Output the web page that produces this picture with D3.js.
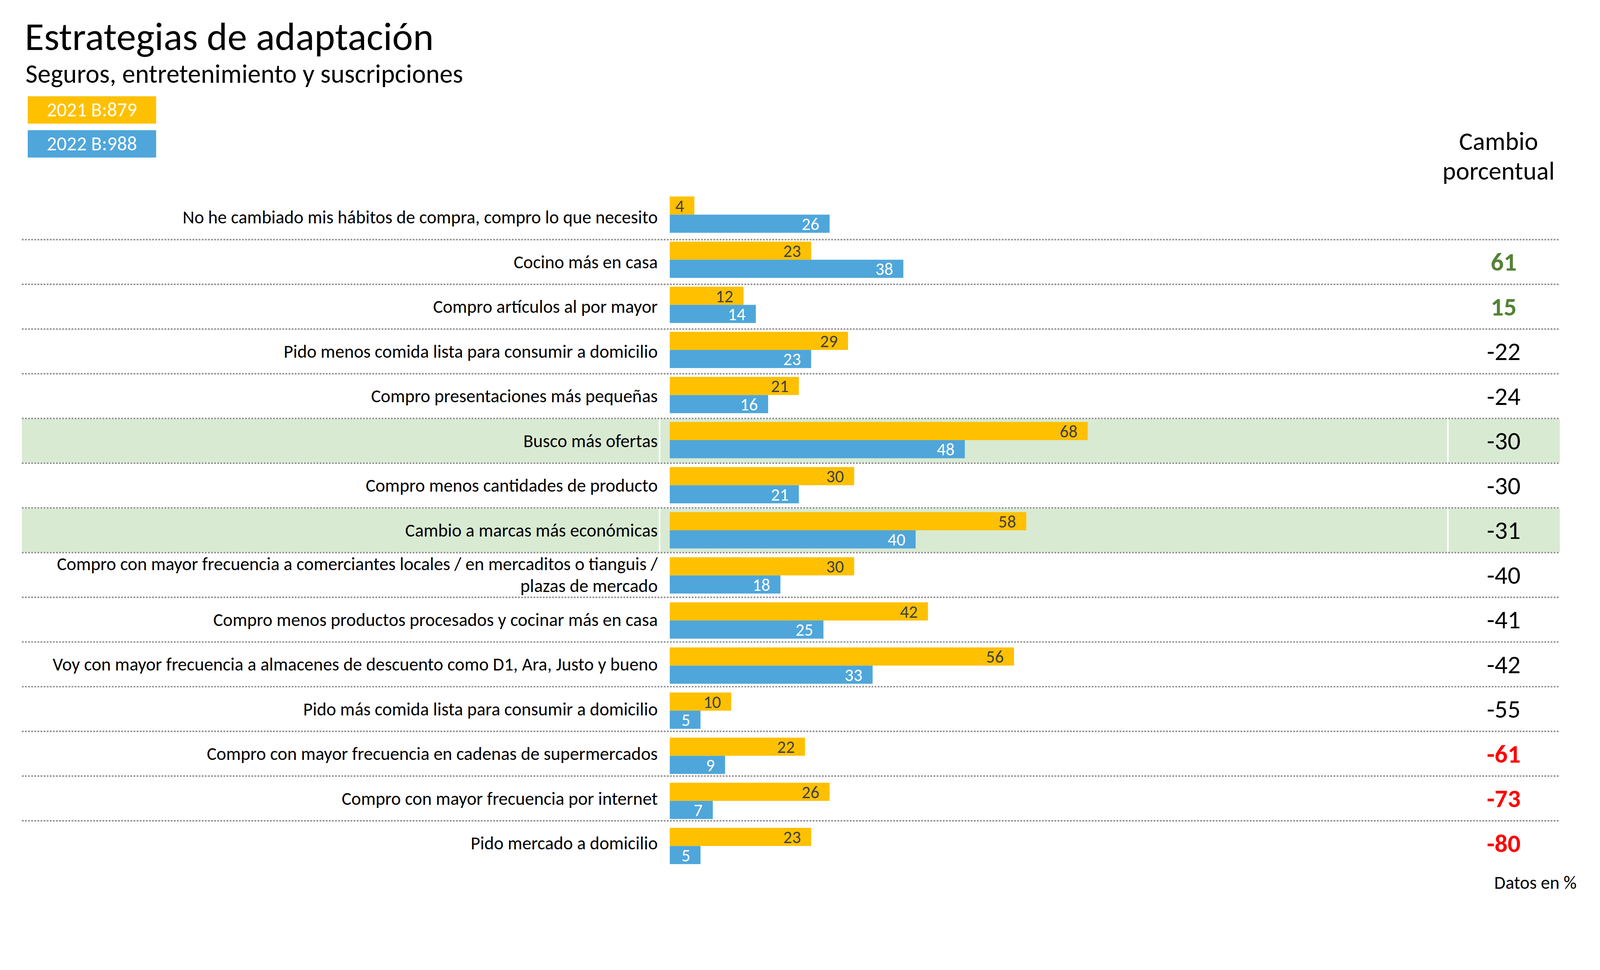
<!DOCTYPE html>
<html>
<head>
<meta charset="utf-8">
<script src="https://cdn.jsdelivr.net/npm/d3@7"></script>
<style>
  html, body { margin: 0; padding: 0; background: #fff; overflow: hidden; }
  svg { display: block; }
  text { font-family: Carlito, Calibri, Lato, sans-serif; }
</style>
</head>
<body>
<div id="chart"></div>
<script>
var categories = [
  "No he cambiado mis hábitos de compra, compro lo que necesito",
  "Cocino más en casa",
  "Compro artículos al por mayor",
  "Pido menos comida lista para consumir a domicilio",
  "Compro presentaciones más pequeñas",
  "Busco más ofertas",
  "Compro menos cantidades de producto",
  "Cambio a marcas más económicas",
  "Compro con mayor frecuencia a comerciantes locales / en mercaditos o tianguis / plazas de mercado",
  "Compro menos productos procesados y cocinar más en casa",
  "Voy con mayor frecuencia a almacenes de descuento como D1, Ara, Justo y bueno",
  "Pido más comida lista para consumir a domicilio",
  "Compro con mayor frecuencia en cadenas de supermercados",
  "Compro con mayor frecuencia por internet",
  "Pido mercado a domicilio"
];
var values2021 = [4, 23, 12, 29, 21, 68, 30, 58, 30, 42, 56, 10, 22, 26, 23];
var values2022 = [26, 38, 14, 23, 16, 48, 21, 40, 18, 25, 33, 5, 9, 7, 5];
var cambio = [null, 61, 15, -22, -24, -30, -30, -31, -40, -41, -42, -55, -61, -73, -80];
var highlighted = ["Busco más ofertas", "Cambio a marcas más económicas"];
var seriesNames = ["2021", "2022"];
var legendLabels = ["2021 B:879", "2022 B:988"];

var W = 4386, H = 2484;
var colors = {"2021": "#FFC000", "2022": "#4FA6DA"};
var labelColor = {"2021": "#404040", "2022": "#ffffff"};

var svg = d3.select("#chart").append("svg")
    .attr("viewBox", "0 0 " + W + " " + H)
    .attr("preserveAspectRatio", "xMinYMin meet")
    .style("width", "100vw")
    .style("height", "100vh");

svg.append("rect").attr("width", W).attr("height", H).attr("fill", "#fff");

// table columns (label / bars / change)
var colLabel = [60, 1806], colBars = [1810, 3967], colChange = [3971, 4276];

var yRow = d3.scaleBand().domain(categories).range([534.4, 534.4 + 15 * 122.6]);
var yBar = d3.scaleBand().domain(categories).range([538.8, 2369.5]).paddingInner(0.195).paddingOuter(0);
var ySeries = d3.scaleBand().domain(seriesNames).range([0, yBar.bandwidth()]);
var x = d3.scaleLinear().domain([0, 100]).range([1836, 1836 + 1685]);

// title
svg.append("text").attr("x", 68).attr("y", 137)
    .style("font-size", "108px").attr("fill", "#000")
    .text("Estrategias de adaptación");
svg.append("text").attr("x", 70).attr("y", 227)
    .style("font-size", "72px").attr("fill", "#000")
    .text("Seguros, entretenimiento y suscripciones");

// legend boxes
var legend = svg.append("g").selectAll("g").data(seriesNames).enter().append("g")
    .attr("transform", function(d, i){ return "translate(76," + (264 + i * 93) + ")"; });
legend.append("rect").attr("width", 352).attr("height", 75)
    .attr("fill", function(d){ return colors[d]; });
legend.append("text").attr("x", 176).attr("y", 55)
    .attr("text-anchor", "middle").attr("fill", "#fff")
    .style("font-size", "54px")
    .text(function(d, i){ return legendLabels[i]; });

// highlighted rows
var hl = svg.append("g");
highlighted.forEach(function(c){
    [colLabel, colBars, colChange].forEach(function(col){
        hl.append("rect")
            .attr("x", col[0]).attr("width", col[1] - col[0])
            .attr("y", yRow(c) + 2).attr("height", yRow.step() - 4)
            .attr("fill", "#D9EAD3");
    });
});

// dotted separators
svg.append("g").selectAll("line").data(categories.slice(1)).enter().append("line")
    .attr("x1", colLabel[0]).attr("x2", colChange[1])
    .attr("y1", function(d){ return yRow(d); })
    .attr("y2", function(d){ return yRow(d); })
    .attr("stroke", "#8f8f8f").attr("stroke-width", 4)
    .attr("stroke-dasharray", "5,3.5");

// bars
var rows = categories.map(function(c, i){
    return {cat: c, vals: [{s: "2021", v: values2021[i]}, {s: "2022", v: values2022[i]}], chg: cambio[i]};
});

var barG = svg.append("g").selectAll("g").data(rows).enter().append("g")
    .attr("transform", function(d){ return "translate(0," + yBar(d.cat) + ")"; });

barG.selectAll("rect").data(function(d){ return d.vals; }).enter().append("rect")
    .attr("x", x(0))
    .attr("y", function(d){ return ySeries(d.s); })
    .attr("width", function(d){ return x(d.v) - x(0); })
    .attr("height", ySeries.bandwidth())
    .attr("fill", function(d){ return colors[d.s]; });

barG.selectAll("text").data(function(d){ return d.vals; }).enter().append("text")
    .attr("x", function(d){ return x(d.v) - 28; })
    .attr("y", function(d){ return ySeries(d.s) + ySeries.bandwidth() / 2; })
    .attr("dy", "0.36em")
    .attr("text-anchor", "end")
    .style("font-size", "48px")
    .attr("fill", function(d){ return labelColor[d.s]; })
    .text(function(d){ return d.v; });

// category labels with wrapping
var labelG = svg.append("g");
rows.forEach(function(r){
    var t = labelG.append("text").attr("text-anchor", "end")
        .style("font-size", "50px").attr("fill", "#000");
    var words = r.cat.split(" "), lines = [], line = [];
    var probe = t.append("tspan");
    words.forEach(function(w){
        line.push(w);
        probe.text(line.join(" "));
        if (probe.node().getComputedTextLength() > 1700 && line.length > 1) {
            line.pop();
            lines.push(line.join(" "));
            line = [w];
        }
    });
    lines.push(line.join(" "));
    probe.remove();
    var cy = yRow(r.cat) + yRow.step() / 2;
    lines.forEach(function(l, i){
        t.append("tspan").attr("x", 1803)
            .attr("y", cy + 17 - (lines.length - 1) * 30 + i * 60)
            .text(l);
    });
});

// change column
var head = svg.append("text").attr("text-anchor", "middle")
    .style("font-size", "70px").attr("fill", "#000");
head.append("tspan").attr("x", 4108).attr("y", 411).text("Cambio");
head.append("tspan").attr("x", 4108).attr("y", 493).text("porcentual");

function chgColor(v){ return v > 0 ? "#548235" : (v <= -60 ? "#FF0000" : "#000"); }

svg.append("g").selectAll("text").data(rows.filter(function(r){ return r.chg != null; }))
    .enter().append("text")
    .attr("x", 4122)
    .attr("y", function(d){ return yRow(d.cat) + yRow.step() / 2 + 24; })
    .attr("text-anchor", "middle")
    .style("font-size", "70px")
    .style("font-weight", function(d){ return (d.chg > 0 || d.chg <= -60) ? "bold" : "normal"; })
    .attr("fill", function(d){ return chgColor(d.chg); })
    .text(function(d){ return d.chg; });

svg.append("text").attr("x", 4322).attr("y", 2437)
    .attr("text-anchor", "end").style("font-size", "50px").attr("fill", "#000")
    .text("Datos en %");
</script>
</body>
</html>
